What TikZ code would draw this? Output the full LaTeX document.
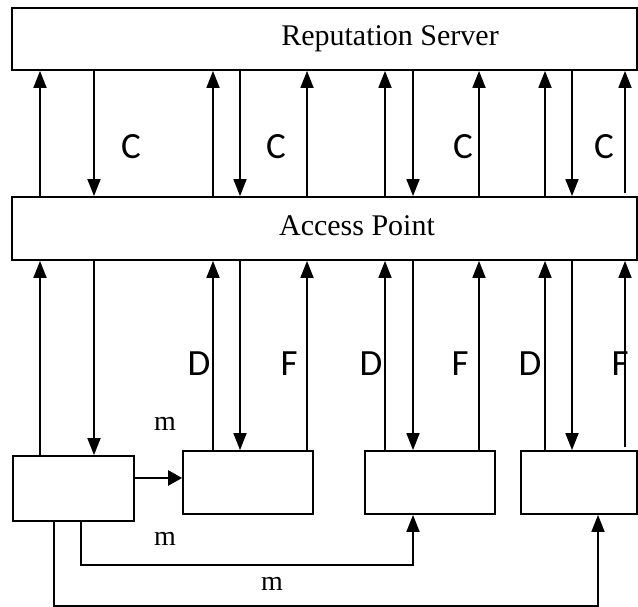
\documentclass[tikz,border=0pt]{standalone}
\usepackage{fontspec}
\setmainfont{Liberation Serif}
\newfontfamily\calib{Carlito}
\usepackage{tikz}
\usetikzlibrary{arrows.meta}
\tikzset{box/.style={rectangle,draw,line width=1.8pt,inner sep=0pt}}
\tikzset{big/.style={font=\fontsize{30}{34}\selectfont,inner sep=0pt,anchor=base}}
\tikzset{lbl/.style={font=\calib\fontsize{37}{40}\selectfont,inner sep=0pt,anchor=base}}
\tikzset{msg/.style={font=\fontsize{28}{30}\selectfont,inner sep=0pt,anchor=base}}

\begin{document}
\begin{tikzpicture}[x=1pt,y=-1pt,>={Triangle[width=13pt,length=17pt]},line width=1.8pt]
    \useasboundingbox (0,0) rectangle (638,607);

    \node[box,minimum width=625pt,minimum height=62pt] (rs) at (324.5,39) {};
    \node[box,minimum width=625pt,minimum height=63pt] (ap) at (324.5,228.5) {};
    \node[big] (rst) at (390,46) {Reputation Server};
    \node[big] (apt) at (357,236) {Access Point};

    \node[box,minimum width=121pt,minimum height=65pt] (n1) at (73.5,488.5) {};
    \node[box,minimum width=130pt,minimum height=63pt] (n2) at (248,482.5) {};
    \node[box,minimum width=130pt,minimum height=63pt] (n3) at (430,482.5) {};
    \node[box,minimum width=116pt,minimum height=63pt] (n4) at (579,482.5) {};

    % access point <-> reputation server
    \foreach \x in {40,213,307,385,479,545}
        \draw[->] (ap.north -| \x,0) -- (rs.south -| \x,0);
    \draw[->,shorten <=3pt] (ap.north -| 625,0) -- (rs.south -| 625,0);
    \foreach \x in {94,240,413,572}
        \draw[->] (rs.south -| \x,0) -- (ap.north -| \x,0);

    % nodes <-> access point
    \foreach \x/\n in {40/n1,213/n2,307/n2,385/n3,479/n3,545/n4}
        \draw[->] (\n.north -| \x,0) -- (ap.south -| \x,0);
    \draw[->,shorten <=3pt] (n4.north -| 625,0) -- (ap.south -| 625,0);
    \foreach \x/\n in {94/n1,240/n2,413/n3,572/n4}
        \draw[->] (ap.south -| \x,0) -- (\n.north -| \x,0);

    % messages
    \draw[-{Triangle[width=15pt,length=14pt]},line width=2.6pt] (n1.east |- 0,478) -- (n2.west |- 0,478);
    \draw[->] (n1.south -| 81,0) -- ++(0,43) -| (n3.south -| 413,0);
    \draw[->] (n1.south -| 54,0) -- ++(0,84) -| (n4.south -| 598,0);

    \node[lbl] (c1) at (131,159) {C};
    \node[lbl] (c2) at (276,159) {C};
    \node[lbl] (c3) at (463,159) {C};
    \node[lbl] (c4) at (604,159) {C};
    \node[lbl] (d1) at (199,375) {D};
    \node[lbl] (f1) at (289,375) {F};
    \node[lbl] (d2) at (371,375) {D};
    \node[lbl] (f2) at (460,375) {F};
    \node[lbl] (d3) at (530,375) {D};
    \node[lbl] (f3) at (620,375) {F};
    \node[msg] (m1) at (165,430) {m};
    \node[msg] (m2) at (165,545) {m};
    \node[msg] (m3) at (272,590) {m};
\end{tikzpicture}
\end{document}
